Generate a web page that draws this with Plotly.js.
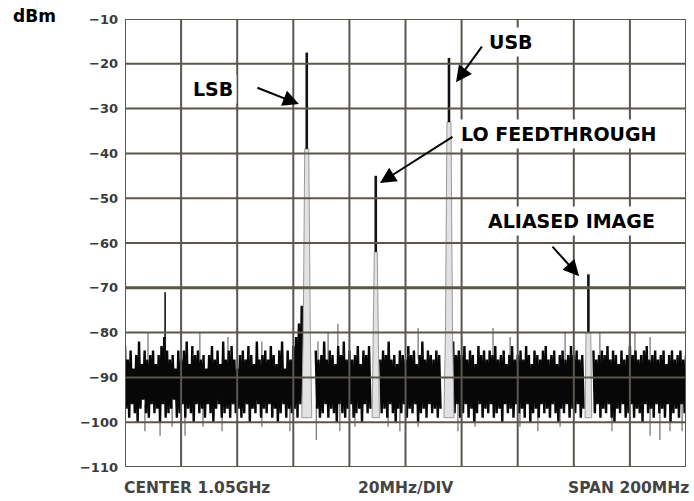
<!DOCTYPE html>
<html>
<head>
<meta charset="utf-8">
<script src="https://cdn.plot.ly/plotly-3.0.1.min.js"></script>
<style>
  html, body { margin: 0; padding: 0; background: #fff; }
  #chart { width: 694px; height: 501px; }
</style>
</head>
<body>
<div id="chart"></div>
<script>
// Sweep: centre 1.05 GHz, span 200 MHz, 20 MHz per division
const startFreq = 950;
const stopFreq = 1150;
const divFreq = 20;

// Noise floor (dBm): bin maximum at each MHz from 950 to 1150
const noiseMax = [
  -83,-86,-84,-88,-85,-82,-87,-84,-86,-85,
  -84,-87,-85,-83,-81,-84,-86,-85,-88,-84,
  -86,-84,-82,-87,-83,-85,-84,-86,-85,-88,
  -85,-83,-86,-84,-87,-82,-86,-84,-83,-86,
  -88,-85,-84,-86,-83,-85,-87,-82,-86,-85,
  -84,-86,-83,-85,-87,-84,-82,-88,-84,-86,
  -83,-81,-78,-74,null,null,null,null,-84,-86,
  -85,-82,-86,-84,-85,-87,-83,-85,-82,-86,
  -84,-86,-85,-83,-87,-84,-85,-83,null,null,
  null,-86,-84,-85,-82,-86,-85,-87,-84,-85,
  -86,-83,-85,-84,-87,-85,-82,-86,-84,-85,
  -86,-84,-85,null,null,null,null,-82,-85,-84,
  -85,-83,-86,-84,-85,-87,-83,-85,-84,-86,
  -84,-85,-83,-86,-85,-84,-87,-85,-83,-86,
  -85,-84,-86,-83,-85,-87,-84,-85,-86,-84,
  -83,-86,-85,-84,-87,-85,-84,-86,-85,-83,
  -85,-84,-86,-85,null,null,null,-84,-86,-85,
  -84,-85,-83,-86,-84,-85,-87,-84,-86,-85,
  -83,-85,-84,-86,-85,-84,-83,-86,-85,-84,
  -86,-85,-84,-87,-85,-84,-86,-85,-84,-86,-85
];

// Noise floor (dBm): bin minimum half a MHz after each maximum
const noiseMin = [
  -97,-99,-96,-98,-100,-97,-95,-98,-99,-96,
  -98,-97,-100,-96,-99,-98,-97,-95,-99,-98,
  -96,-99,-97,-98,-100,-96,-98,-97,-99,-96,
  -98,-100,-97,-96,-99,-98,-97,-99,-96,-98,
  -97,-99,-98,-96,-100,-97,-98,-96,-99,-97,
  -98,-96,-99,-97,-100,-98,-96,-99,-97,-98,
  -97,-99,-96,-98,null,null,null,null,-97,-99,
  -98,-96,-99,-97,-98,-100,-96,-98,-99,-97,
  -96,-99,-98,-97,-100,-96,-98,-97,null,null,
  null,-98,-97,-99,-96,-98,-100,-97,-98,-96,
  -99,-97,-98,-96,-100,-98,-97,-99,-96,-98,
  -97,-99,-97,null,null,null,null,-98,-96,-99,
  -98,-96,-99,-97,-100,-98,-96,-99,-97,-98,
  -96,-99,-98,-97,-100,-96,-98,-97,-99,-96,
  -98,-97,-99,-96,-100,-98,-97,-99,-96,-98,
  -97,-99,-96,-98,-100,-97,-98,-96,-99,-97,
  -98,-96,-99,-97,null,null,null,-98,-96,-99,
  -97,-98,-96,-99,-100,-97,-98,-96,-99,-98,
  -96,-99,-97,-98,-100,-96,-98,-97,-99,-96,
  -98,-97,-99,-96,-100,-98,-97,-99,-96,-98
];

// Isolated noise excursions above and below the floor
const upSpikeFreq  = [958.2, 976.7, 986.7, 998.8, 1018.8, 1022.4, 1025.9, 1054.5, 1070.1, 1081.2, 1087.3, 1106.9, 1119.3, 1131.8, 1137.2];
const upSpikeLevel = [-80, -80, -81, -82, -82, -80, -78, -79, -81, -79, -81, -80, -80, -80, -81];
const downSpikeFreq  = [957.1, 962.5, 966.8, 971.4, 977.8, 984.6, 998.8, 1008.8, 1018.2, 1026.6, 1032.0, 1043.8, 1048.0, 1054.5, 1068.7, 1074.8, 1090.8, 1097.2, 1105.1, 1123.6, 1137.2, 1140.7, 1144.3, 1148.6];
const downSpikeLevel = [-102, -103, -101, -103, -101, -102, -101, -102, -104, -102, -101, -101, -102, -101, -102, -101, -101, -102, -101, -102, -103, -104, -102, -102];

// Discrete tones: spur, LSB, LO feedthrough, USB, aliased image
const toneFreq      = [964.3, 1014.8, 1039.4, 1065.5, 1115.2];
const toneLevel     = [-71, -17.5, -45, -18.7, -67];
const toneCoreLevel = [-86, -39, -62, -33, -80];
const toneSkirtMHz  = [0, 1.8, 1.3, 1.8, 1.2];

// Vertical scale labels
const yTickValues = [-110, -100, -90, -80, -70, -60, -50, -40, -30, -20, -10];
const yTickLabels = ['\u2212110', '\u2212100', '\u221290', '\u221280', '\u221270', '\u221260', '\u221250', '\u221240', '\u221230', '\u221220', '\u221210'];

// Footer captions
const footerLeft = 'CENTER 1.05GHz';
const footerMid = '20MHz/DIV';
const footerRight = 'SPAN 200MHz';

// ---- traces ----
const traces = [];

// excursions (thin grey)
{
  const x = [], y = [];
  upSpikeFreq.forEach((f, i) => { x.push(f, f, null); y.push(-86, upSpikeLevel[i], null); });
  downSpikeFreq.forEach((f, i) => { x.push(f, f, null); y.push(-96, downSpikeLevel[i], null); });
  traces.push({ type: 'scatter', mode: 'lines', x, y, line: { color: '#6f6f6f', width: 1.2 }, hoverinfo: 'skip' });
}

// dense noise floor: alternate max/min samples
{
  const x = [], y = [];
  noiseMax.forEach((v, i) => {
    x.push(startFreq + i); y.push(v);
    if (i < noiseMin.length) { x.push(startFreq + i + 0.5); y.push(noiseMin[i]); }
  });
  traces.push({ type: 'scatter', mode: 'lines', x, y, connectgaps: false,
    line: { color: '#070707', width: 2.4 }, hoverinfo: 'skip' });
}

// tone skirts (light shoulders below each tone)
toneFreq.forEach((f, i) => {
  const hw = toneSkirtMHz[i];
  if (!hw) return;
  const core = toneCoreLevel[i];
  traces.push({ type: 'scatter', mode: 'lines', fill: 'toself',
    x: [f - hw, f - 0.7 * hw, f - 0.4 * hw, f + 0.4 * hw, f + 0.7 * hw, f + hw, f - hw],
    y: [-99, -80, core, core, -80, -99, -99],
    fillcolor: '#e2e2e2', line: { color: '#9a9a9a', width: 1 }, hoverinfo: 'skip' });
});

// tone cores (solid lines)
toneFreq.forEach((f, i) => {
  traces.push({ type: 'scatter', mode: 'lines',
    x: [f, f], y: [toneLevel[i], toneCoreLevel[i]],
    line: { color: '#111', width: i === 0 ? 1.6 : 2.6 }, hoverinfo: 'skip' });
});

// ---- graticule drawn over the trace ----
const gridColor = '#5b574f';
const shapes = [];
for (let f = startFreq; f <= stopFreq; f += divFreq) {
  shapes.push({ type: 'line', layer: 'above', xref: 'x', yref: 'paper', x0: f, x1: f, y0: 0, y1: 1,
    line: { color: gridColor, width: 2 } });
}
yTickValues.forEach(v => {
  shapes.push({ type: 'line', layer: 'above', xref: 'paper', yref: 'y', x0: 0, x1: 1, y0: v, y1: v,
    line: { color: gridColor, width: v === -70 ? 3 : 2 } });
});

// ---- labels ----
const labelFont = { family: 'DejaVu Sans', size: 19, color: '#000', weight: 'bold' };
const footFont = { family: 'DejaVu Sans', size: 15.5, color: '#444', weight: 'bold' };

function label(text, x, y) {
  return { text, x, y, xref: 'x', yref: 'y', showarrow: false, font: labelFont,
    bgcolor: '#fff', borderpad: 3, xanchor: 'center', yanchor: 'middle' };
}
function arrow(x, y, ax, ay) {
  return { text: '', x, y, xref: 'x', yref: 'y', ax, ay, axref: 'pixel', ayref: 'pixel',
    showarrow: true, arrowhead: 2, arrowsize: 1.6, arrowwidth: 2, arrowcolor: '#000', standoff: 0 };
}

const annotations = [
  label('LSB', 981.4, -25.6),
  label('USB', 1087.6, -15.1),
  label('LO FEEDTHROUGH', 1104.7, -35.7),
  label('ALIASED IMAGE', 1109.0, -55.1),
  arrow(1012.0, -29.0, -43, -17),
  arrow(1068.0, -24.1, 27, -37),
  arrow(1040.9, -46.6, 74, -47),
  arrow(1111.9, -67.4, -28, -31),
  { text: 'dBm', xref: 'paper', yref: 'paper', x: -0.162, y: 1, yshift: 3.5, xanchor: 'center', yanchor: 'middle',
    showarrow: false, font: { family: 'DejaVu Sans', size: 17, color: '#000', weight: 'bold' } },
  { text: footerLeft, xref: 'paper', yref: 'paper', x: 0, xshift: -3, y: 0, yshift: -21, xanchor: 'left', yanchor: 'middle',
    showarrow: false, font: footFont },
  { text: footerMid, xref: 'paper', yref: 'paper', x: 0.5, y: 0, yshift: -21, xanchor: 'center', yanchor: 'middle',
    showarrow: false, font: footFont },
  { text: footerRight, xref: 'paper', yref: 'paper', x: 1, xshift: 5, y: 0, yshift: -21, xanchor: 'right', yanchor: 'middle',
    showarrow: false, font: footFont }
];

const layout = {
  width: 694, height: 501,
  margin: { l: 125, r: 8, t: 19, b: 34 },
  paper_bgcolor: '#fff', plot_bgcolor: '#fff',
  showlegend: false,
  xaxis: { range: [startFreq, stopFreq], showgrid: false, zeroline: false, showline: false,
    showticklabels: false, ticks: '', fixedrange: true },
  yaxis: { range: [-110, -10], tickvals: yTickValues, ticktext: yTickLabels,
    showgrid: false, zeroline: false, showline: false, ticks: '', ticklabelstandoff: 6,
    tickfont: { family: 'DejaVu Sans', size: 13, color: '#3a3a3a', weight: 'bold' }, fixedrange: true },
  shapes, annotations
};

Plotly.newPlot('chart', traces, layout, { displayModeBar: false, staticPlot: true });
</script>
</body>
</html>
